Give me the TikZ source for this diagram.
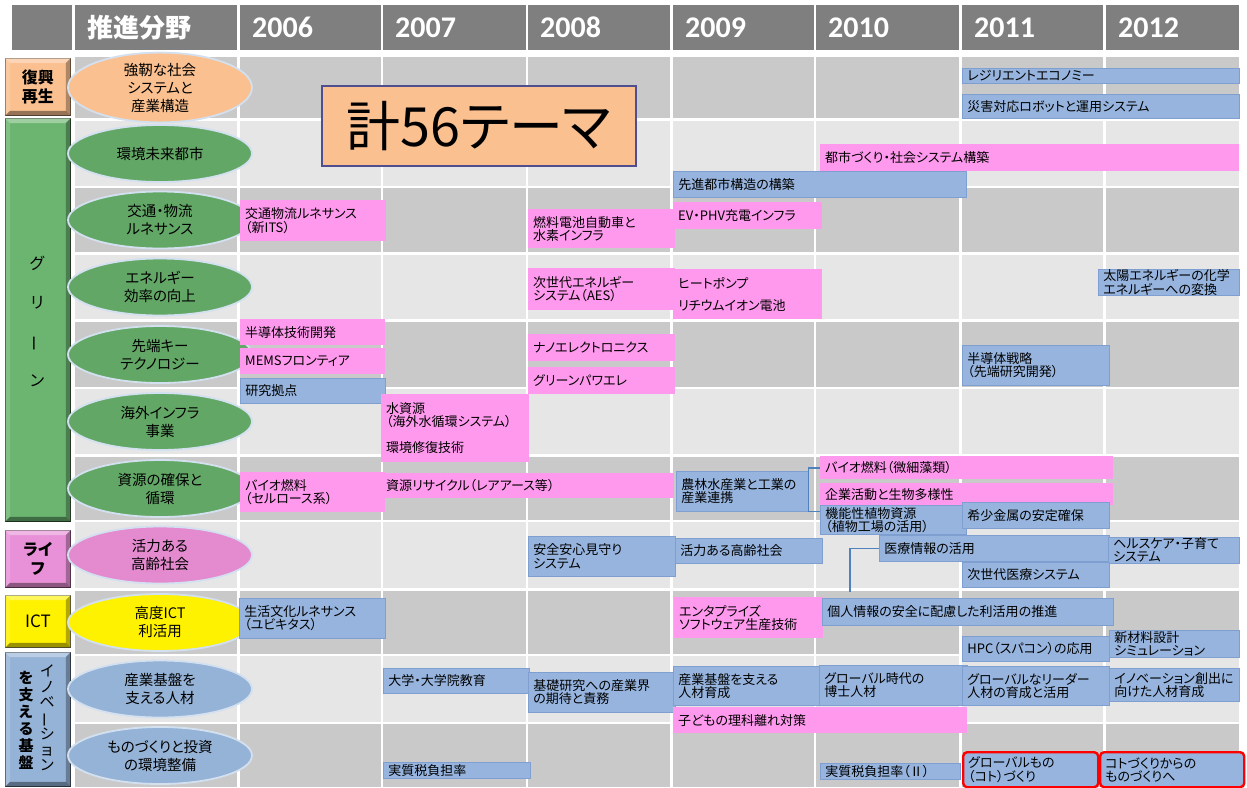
\documentclass[tikz,border=0pt]{standalone}
\usepackage{fontspec}
\usepackage{graphicx}
\usetikzlibrary{shapes.geometric,calc}
\setmainfont{Noto Sans CJK JP}[RawFeature={+palt}]
\newfontfamily\yearfont{Carlito}
\definecolor{hdrgray}{HTML}{7F7F7F}
\definecolor{rowD}{HTML}{C9C9C9}
\definecolor{rowL}{HTML}{E6E6E6}
\definecolor{barpink}{HTML}{FF99EE}
\definecolor{barblue}{HTML}{96B4DE}
\definecolor{barblueD}{HTML}{7E9FCF}
\definecolor{orfill}{HTML}{FAC090}
\definecolor{grell}{HTML}{63A767}
\definecolor{grcat}{HTML}{6CB570}
\definecolor{pkell}{HTML}{E48BD0}
\definecolor{pkcat}{HTML}{E891D8}
\definecolor{blfill}{HTML}{95B3D7}
\definecolor{ellline}{HTML}{D3E0EF}
\definecolor{connblue}{HTML}{4F81BD}
\definecolor{totline}{HTML}{4F4F8F}
\newcommand\barfont{\fontsize{13}{13.2}\selectfont}
\newcommand\ellfont{\fontsize{14.5}{18}\selectfont}
\newcommand\catfont{\fontsize{16}{19}\selectfont\bfseries}
\newcommand\themebar[7]{%
 \pgfmathsetmacro\tbw{#5-#3}%
 \pgfmathsetmacro\tbh{#6-#4}%
 \pgfmathsetmacro\tbt{#5-#3-10}%
 \node[#1, minimum width=\tbw pt, minimum height=\tbh pt, text width=\tbt pt] (#2) at (#3,#4) {#7};}
\newcommand\bevel[1]{%
 \fill[white,opacity=0.35] (#1.north west) -- (#1.north east) -- ($(#1.north east)+(-5,5)$) -- ($(#1.north west)+(5,5)$) -- cycle;
 \fill[white,opacity=0.15] (#1.north west) -- ($(#1.north west)+(5,5)$) -- ($(#1.south west)+(5,-5)$) -- (#1.south west) -- cycle;
 \fill[black,opacity=0.3] (#1.north east) -- (#1.south east) -- ($(#1.south east)+(-5,-5)$) -- ($(#1.north east)+(-5,5)$) -- cycle;
 \fill[black,opacity=0.4] (#1.south west) -- (#1.south east) -- ($(#1.south east)+(-5,-5)$) -- ($(#1.south west)+(5,-5)$) -- cycle;}
\tikzset{
 bx/.style={anchor=north west, inner xsep=5pt, inner ysep=0.5pt, align=left, font=\barfont, text=black},
 bb/.style={bx, fill=barblue, draw=barblueD, line width=0.6pt},
 pb/.style={bx, fill=barpink},
 rb/.style={bx, fill=barblue, draw=red, line width=2.4pt, rounded corners=4pt},
 ell/.style={ellipse, minimum width=184pt, minimum height=57pt, inner sep=0pt, draw=ellline, line width=1.8pt, align=center, font=\ellfont},
 cat/.style={anchor=north west, rectangle, line width=0.8pt, align=center, font=\catfont, inner sep=0pt},
 hdr/.style={anchor=north west, fill=hdrgray, text=white, inner xsep=12pt, inner ysep=0pt, minimum height=45pt, text width=#1, align=left},
 conn/.style={draw=connblue, line width=1.6pt}
}
\begin{document}
\begin{tikzpicture}[x=1pt,y=-1pt]
\useasboundingbox (0,0) rectangle (1247,787);
\fill[white] (0,0) rectangle (1247,787);
% row backgrounds
\foreach \ya/\yb/\cl in {57/118/rowD,121/186/rowL,188/252/rowD,255/319/rowL,322/387/rowD,389/454/rowL,457/520/rowD,522/588/rowL,591/654/rowD,656/722/rowL,724/787/rowD}{
  \foreach \xa/\xb in {75/237,240/381,383/526,528/670,673/814,816/959,962/1103,1106/1239}{
    \fill[\cl] (\xa,\ya) rectangle (\xb,\yb);
  }
}
% header
\node[hdr=36pt, minimum width=60pt] (h0) at (12,5) {};
\node[hdr=138pt, minimum width=162pt, font=\fontsize{26}{26}\selectfont\bfseries] (h1) at (75,5) {推進分野};
\foreach \xa/\xb/\yr in {240/381/2006,383/526/2007,528/670/2008,673/814/2009,816/959/2010,962/1103/2011,1106/1239/2012}{
  \pgfmathsetmacro\hdrw{\xb-\xa}\pgfmathsetmacro\hdrt{\xb-\xa-24}
  \node[hdr=\hdrt pt, minimum width=\hdrw pt, font=\yearfont\fontsize{30}{30}\selectfont\bfseries] (y\yr) at (\xa,5) {\yr};
}
% category boxes
\node[cat, fill=orfill, draw=orfill!55!black, minimum width=65pt, minimum height=57pt] (fukko) at (5,58) {};
\bevel{fukko}
\node[align=center, font=\catfont, inner sep=0pt] (fukkotxt) at (fukko.center) {復興\\再生};
\node[cat, fill=grcat, draw=grcat!45!black, minimum width=65pt, minimum height=403pt] (green) at (5,118) {};
\bevel{green}
\node[align=center, font=\fontsize{16}{39}\selectfont, inner sep=0pt] (greentxt) at (37,321) {グ\\リ\\\rotatebox[origin=c]{90}{ー}\\ン};
\node[cat, fill=pkcat, draw=pkcat!50!black, minimum width=65pt, minimum height=57pt] (life) at (5,530) {};
\bevel{life}
\node[align=center, font=\catfont, inner sep=0pt] (lifetxt) at (life.center) {ライ\\フ};
\node[cat, fill=yellow, draw=yellow!45!black, minimum width=65pt, minimum height=52pt] (ict) at (5,595) {};
\bevel{ict}
\node[font=\fontsize{17}{19}\selectfont, inner sep=0pt] (icttxt) at (ict.center) {ICT};
\node[cat, fill=blfill, draw=blfill!45!black, minimum width=65pt, minimum height=134pt] (inno) at (5,652) {};
\bevel{inno}
\node[align=center, font=\fontsize{15}{15.5}\selectfont, inner sep=0pt] (innotxt1) at (47,718) {イ\\ノ\\ベ\\\rotatebox[origin=c]{90}{ー}\\シ\\ョ\\ン};
\node[align=center, font=\fontsize{15}{17}\selectfont\bfseries, inner sep=0pt] (innotxt2) at (26,720) {を\\支\\え\\る\\基\\盤};
% ellipses
\node[ell, fill=orfill] (e1) at (160,87.5) {強靭な社会\\システムと\\産業構造};
\node[ell, fill=grell] (e2) at (160,153.5) {環境未来都市};
\node[ell, fill=grell] (e3) at (160,220) {交通・物流\\ルネサンス};
\node[ell, fill=grell] (e4) at (160,287) {エネルギー\\効率の向上};
\node[ell, fill=grell] (e5) at (160,354.5) {先端キー\\テクノロジー};
\node[ell, fill=grell] (e6) at (160,421.5) {海外インフラ\\事業};
\node[ell, fill=grell] (e7) at (160,488.5) {資源の確保と\\循環};
\node[ell, fill=pkell] (e8) at (160,555) {活力ある\\高齢社会};
\node[ell, fill=yellow] (e9) at (160,622.5) {高度ICT\\利活用};
\node[ell, fill=blfill] (e10) at (160,689) {産業基盤を\\支える人材};
\node[ell, fill=blfill] (e11) at (160,755.5) {ものづくりと投資\\の環境整備};
% total box
\node[anchor=north west, draw=totline, fill=orfill, line width=1.5pt, minimum width=314pt, minimum height=80pt, font=\fontsize{54}{54}\selectfont] (total) at (321,85) {計56テーマ};
% row 1
\themebar{bb}{resil}{962}{68}{1239}{83}{レジリエントエコノミー}
\themebar{bb}{saigai}{962}{94}{1239}{118}{災害対応ロボットと運用システム}
% row 2
\themebar{pb}{toshi}{820}{144}{1239}{171}{都市づくり・社会システム構築}
\themebar{bb}{senshin}{673}{171}{966}{197}{先進都市構造の構築}
% row 3
\themebar{pb}{its}{240}{200}{386}{241}{交通物流ルネサンス\\（新ITS）}
\themebar{pb}{fc}{528}{209}{675}{248}{燃料電池自動車と\\水素インフラ}
\themebar{pb}{ev}{673}{202}{822}{229}{EV・PHV充電インフラ}
% row 4
\themebar{pb}{aes}{528}{268}{675}{310}{次世代エネルギー\\システム（AES）}
\themebar{pb}{heat}{673}{269}{822}{319}{ヒートポンプ\\[9pt]リチウムイオン電池}
\themebar{bb}{solar}{1098}{269}{1239}{294}{太陽エネルギーの化学\\エネルギーへの変換}
% row 5
\themebar{pb}{semi}{240}{319}{385}{345}{半導体技術開発}
\themebar{pb}{mems}{240}{348}{385}{374}{MEMSフロンティア}
\themebar{bb}{kenkyu}{240}{378}{385}{403}{研究拠点}
\themebar{pb}{nano}{528}{334}{675}{361}{ナノエレクトロニクス}
\themebar{pb}{gpe}{528}{367}{675}{394}{グリーンパワエレ}
\themebar{bb}{semis}{962}{345}{1109}{385}{半導体戦略\\（先端研究開発）}
% row 6
\themebar{pb}{water}{381}{394}{529}{462}{水資源\\（海外水循環システム）\\[13pt]環境修復技術}
% row 7
\themebar{pb}{bio1}{240}{472}{385}{512}{バイオ燃料\\（セルロース系）}
\themebar{pb}{recyc}{381}{473}{674}{498}{資源リサイクル（レアアース等）}
\themebar{bb}{nourin}{676}{471}{808}{511}{農林水産業と工業の\\産業連携}
\themebar{pb}{bio2}{820}{456}{1113}{479}{バイオ燃料（微細藻類）}
\themebar{pb}{kigyo}{820}{483}{1113}{505}{企業活動と生物多様性}
\themebar{bb}{kinou}{820}{505}{966}{534}{機能性植物資源\\（植物工場の活用）}
\themebar{bb}{kisho}{962}{502}{1109}{528}{希少金属の安定確保}
% row 8
\themebar{bb}{anzen}{528}{536}{675}{576}{安全安心見守り\\システム}
\themebar{bb}{katsu}{675}{538}{822}{563}{活力ある高齢社会}
\themebar{bb}{iryo}{879}{535}{1109}{561}{医療情報の活用}
\themebar{bb}{health}{1108}{537}{1239}{562}{ヘルスケア・子育て\\システム}
\themebar{bb}{jisedai}{962}{562}{1109}{587}{次世代医療システム}
% row 9
\themebar{bb}{seikatsu}{239}{598}{385}{638}{生活文化ルネサンス\\（ユビキタス）}
\themebar{pb}{enter}{674}{597}{823}{638}{エンタプライズ\\ソフトウェア生産技術}
\themebar{bb}{kojin}{822}{598}{1113}{625}{個人情報の安全に配慮した利活用の推進}
\themebar{bb}{hpc}{962}{636}{1109}{661}{HPC（スパコン）の応用}
\themebar{bb}{shinzai}{1109}{630}{1239}{657}{新材料設計\\シミュレーション}
% row 10
\themebar{bb}{daigaku}{383}{668}{529}{693}{大学・大学院教育}
\themebar{bb}{kiso}{528}{672}{675}{712}{基礎研究への産業界\\の期待と責務}
\themebar{bb}{sangyo}{673}{666}{822}{705}{産業基盤を支える\\人材育成}
\themebar{pb}{kodomo}{673}{707}{967}{733}{子どもの理科離れ対策}
\themebar{bb}{hakase}{819}{665}{967}{705}{グローバル時代の\\博士人材}
\themebar{bb}{leader}{962}{666}{1109}{705}{グローバルなリーダー\\人材の育成と活用}
\themebar{bb}{inov}{1109}{668}{1239}{701}{イノベーション創出に\\向けた人材育成}
% row 11
\themebar{bb}{zei1}{383}{762}{530}{778}{実質税負担率}
\themebar{bb}{zei2}{820}{763}{960}{779}{実質税負担率（Ⅱ）}
\themebar{rb}{glomono}{962}{751}{1097}{786}{グローバルもの\\（コト）づくり}
\themebar{rb}{koto}{1099}{751}{1243}{786}{コトづくりからの\\ものづくりへ}
% connectors
\draw[conn] (bio2.west) -| (nourin.south east) -- (nourin.south east -| kinou.west);
\coordinate (kj) at ($(kojin.north west)+(28,-6)$);
\draw[conn] (iryo.west) -| (kj);
\end{tikzpicture}
\end{document}
